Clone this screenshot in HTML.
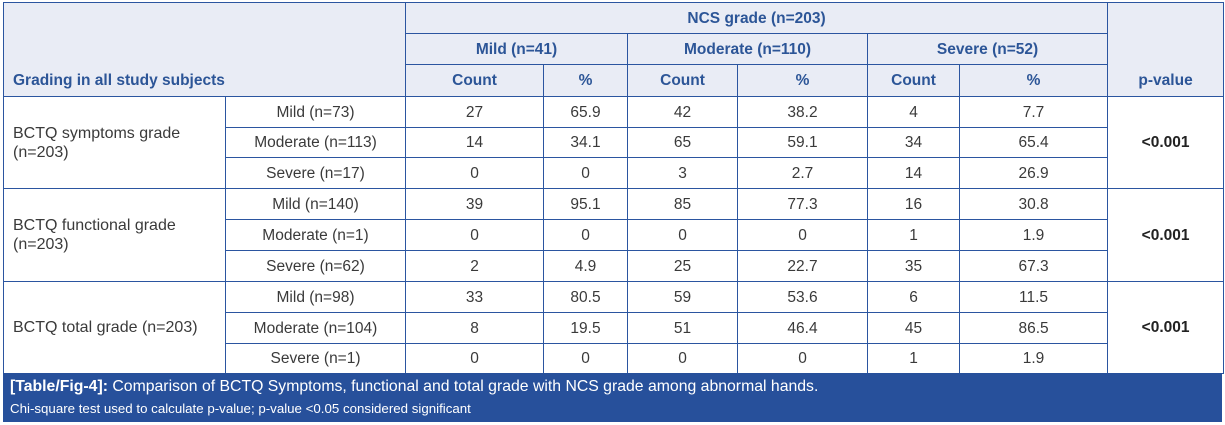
<!DOCTYPE html>
<html><head><meta charset="utf-8"><style>
body{margin:0;width:1225px;height:425px;background:#fff;font-family:"Liberation Sans",sans-serif;position:relative;overflow:hidden}
table{position:absolute;left:3px;top:2px;border-collapse:collapse;table-layout:fixed;width:1220px}
td{border:1.5px solid #2b55a0;text-align:center;font-size:15.5px;color:#3a3a3a;padding:0;line-height:19px}
thead td{background:#e9ecf5;color:#2c5597;font-weight:bold}
td.l{text-align:left;padding-left:9px}
td.big{font-size:16px}
.b{font-weight:bold;color:#222}
.cap{position:absolute;left:3px;top:373px;width:1219px;height:49px;background:#27509b;color:#fff}
.cap .a{position:absolute;left:7px;top:5px;font-size:15.8px}
.cap .s{position:absolute;left:7px;top:28px;font-size:13.3px}
</style></head><body>
<table>
<colgroup><col style="width:222px"><col style="width:180px"><col style="width:138px"><col style="width:84px"><col style="width:110px"><col style="width:130px"><col style="width:92px"><col style="width:148px"><col style="width:116px"></colgroup>
<thead>
<tr style="height:31px"><td colspan="2" rowspan="3" class="l" style="vertical-align:bottom;padding-bottom:6px">Grading in all study subjects</td><td colspan="6">NCS grade (n=203)</td><td rowspan="3" style="vertical-align:bottom;padding-bottom:6px">p-value</td></tr>
<tr style="height:31px"><td colspan="2">Mild (n=41)</td><td colspan="2">Moderate (n=110)</td><td colspan="2">Severe (n=52)</td></tr>
<tr style="height:32px"><td>Count</td><td>%</td><td>Count</td><td>%</td><td>Count</td><td>%</td></tr>
</thead>
<tbody>
<tr style="height:31px"><td rowspan="3" class="l big">BCTQ symptoms grade<br>(n=203)</td><td>Mild (n=73)</td><td>27</td><td>65.9</td><td>42</td><td>38.2</td><td>4</td><td>7.7</td><td rowspan="3" class="b">&lt;0.001</td></tr>
<tr style="height:30px"><td>Moderate (n=113)</td><td>14</td><td>34.1</td><td>65</td><td>59.1</td><td>34</td><td>65.4</td></tr>
<tr style="height:31px"><td>Severe (n=17)</td><td>0</td><td>0</td><td>3</td><td>2.7</td><td>14</td><td>26.9</td></tr>
<tr style="height:31px"><td rowspan="3" class="l big">BCTQ functional grade<br>(n=203)</td><td>Mild (n=140)</td><td>39</td><td>95.1</td><td>85</td><td>77.3</td><td>16</td><td>30.8</td><td rowspan="3" class="b">&lt;0.001</td></tr>
<tr style="height:31px"><td>Moderate (n=1)</td><td>0</td><td>0</td><td>0</td><td>0</td><td>1</td><td>1.9</td></tr>
<tr style="height:31px"><td>Severe (n=62)</td><td>2</td><td>4.9</td><td>25</td><td>22.7</td><td>35</td><td>67.3</td></tr>
<tr style="height:31px"><td rowspan="3" class="l big">BCTQ total grade (n=203)</td><td>Mild (n=98)</td><td>33</td><td>80.5</td><td>59</td><td>53.6</td><td>6</td><td>11.5</td><td rowspan="3" class="b">&lt;0.001</td></tr>
<tr style="height:31px"><td>Moderate (n=104)</td><td>8</td><td>19.5</td><td>51</td><td>46.4</td><td>45</td><td>86.5</td></tr>
<tr style="height:30px"><td>Severe (n=1)</td><td>0</td><td>0</td><td>0</td><td>0</td><td>1</td><td>1.9</td></tr>
</tbody>
</table>
<div class="cap"><div class="a"><b>[Table/Fig-4]:</b> Comparison of BCTQ Symptoms, functional and total grade with NCS grade among abnormal hands.</div><div class="s">Chi-square test used to calculate p-value; p-value &lt;0.05 considered significant</div></div>
</body></html>
